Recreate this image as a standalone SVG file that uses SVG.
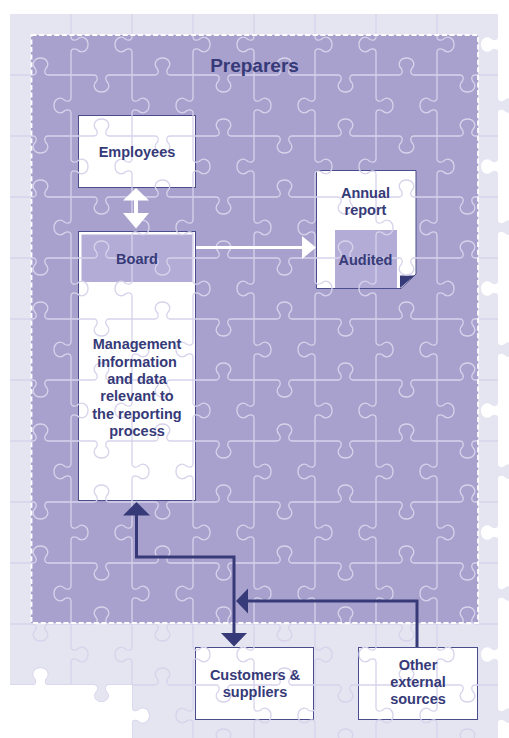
<svg xmlns="http://www.w3.org/2000/svg" width="509" height="738" viewBox="0 0 509 738">
<style>
.pz{fill:none;stroke:#d6d3eb;stroke-width:1.3}
.box{fill:#ffffff;stroke:#4a4d8c;stroke-width:1}
.band{fill:#b3acd7}
.t{font-family:"Liberation Sans",Arial,Helvetica,sans-serif;font-weight:bold;fill:#363a78;text-anchor:middle}
.s{font-size:14.5px}
.nav{fill:none;stroke:#363a78;stroke-width:3}
.navh{fill:#363a78}
</style>
<defs>
<path id="region" d="M10,14 H498
v23 c0,3 -3,4 -6,2.5 c-5,-5 -11,-1 -11,5 c0,6 6,10 11,5 c3,-1.5 6,-0.5 6,2.5 v23
v23 c0,3 3,4 6,2.5 c5,-5 11,-1 11,5 c0,6 -6,10 -11,5 c-3,-1.5 -6,-0.5 -6,2.5 v23
v23 c0,3 -3,4 -6,2.5 c-5,-5 -11,-1 -11,5 c0,6 6,10 11,5 c3,-1.5 6,-0.5 6,2.5 v23
v23 c0,3 3,4 6,2.5 c5,-5 11,-1 11,5 c0,6 -6,10 -11,5 c-3,-1.5 -6,-0.5 -6,2.5 v23
v23 c0,3 -3,4 -6,2.5 c-5,-5 -11,-1 -11,5 c0,6 6,10 11,5 c3,-1.5 6,-0.5 6,2.5 v23
v23 c0,3 3,4 6,2.5 c5,-5 11,-1 11,5 c0,6 -6,10 -11,5 c-3,-1.5 -6,-0.5 -6,2.5 v23
v23 c0,3 -3,4 -6,2.5 c-5,-5 -11,-1 -11,5 c0,6 6,10 11,5 c3,-1.5 6,-0.5 6,2.5 v23
v23 c0,3 3,4 6,2.5 c5,-5 11,-1 11,5 c0,6 -6,10 -11,5 c-3,-1.5 -6,-0.5 -6,2.5 v23
v23 c0,3 -3,4 -6,2.5 c-5,-5 -11,-1 -11,5 c0,6 6,10 11,5 c3,-1.5 6,-0.5 6,2.5 v23
v23 c0,3 3,4 6,2.5 c5,-5 11,-1 11,5 c0,6 -6,10 -11,5 c-3,-1.5 -6,-0.5 -6,2.5 v23
v23 c0,3 -3,4 -6,2.5 c-5,-5 -11,-1 -11,5 c0,6 6,10 11,5 c3,-1.5 6,-0.5 6,2.5 v23
v23 c0,3 3,4 6,2.5 c5,-5 11,-1 11,5 c0,6 -6,10 -11,5 c-3,-1.5 -6,-0.5 -6,2.5 v23
H132
v-23 c0,-3 3,-4 6,-2.5 c5,5 11,1 11,-5 c0,-6 -6,-10 -11,-5 c-3,1.5 -6,0.5 -6,-2.5 v-23
h-23 c-3,0 -4,3 -2.5,6 c5,5 1,11 -5,11 c-6,0 -10,-6 -5,-11 c1.5,-3 0.5,-6 -2.5,-6 h-23
h-23 c-3,0 -4,-3 -2.5,-6 c5,-5 1,-11 -5,-11 c-6,0 -10,6 -5,11 c1.5,3 0.5,6 -2.5,6 h-23
Z"/>
<clipPath id="clipR"><use href="#region"/></clipPath>
<path id="ha" d="M0,0
h23 c3,0 4,3 2.5,6 c-5,5 -1,11 5,11 c6,0 10,-6 5,-11 c-1.5,-3 -0.5,-6 2.5,-6 h23
h23 c3,0 4,-3 2.5,-6 c-5,-5 -1,-11 5,-11 c6,0 10,6 5,11 c-1.5,3 -0.5,6 2.5,6 h23
h23 c3,0 4,3 2.5,6 c-5,5 -1,11 5,11 c6,0 10,-6 5,-11 c-1.5,-3 -0.5,-6 2.5,-6 h23
h23 c3,0 4,-3 2.5,-6 c-5,-5 -1,-11 5,-11 c6,0 10,6 5,11 c-1.5,3 -0.5,6 2.5,6 h23
h23 c3,0 4,3 2.5,6 c-5,5 -1,11 5,11 c6,0 10,-6 5,-11 c-1.5,-3 -0.5,-6 2.5,-6 h23
h23 c3,0 4,-3 2.5,-6 c-5,-5 -1,-11 5,-11 c6,0 10,6 5,11 c-1.5,3 -0.5,6 2.5,6 h23
h23 c3,0 4,3 2.5,6 c-5,5 -1,11 5,11 c6,0 10,-6 5,-11 c-1.5,-3 -0.5,-6 2.5,-6 h23
h23 c3,0 4,-3 2.5,-6 c-5,-5 -1,-11 5,-11 c6,0 10,6 5,11 c-1.5,3 -0.5,6 2.5,6 h23"/>
<path id="hb" d="M0,0
h23 c3,0 4,-3 2.5,-6 c-5,-5 -1,-11 5,-11 c6,0 10,6 5,11 c-1.5,3 -0.5,6 2.5,6 h23
h23 c3,0 4,3 2.5,6 c-5,5 -1,11 5,11 c6,0 10,-6 5,-11 c-1.5,-3 -0.5,-6 2.5,-6 h23
h23 c3,0 4,-3 2.5,-6 c-5,-5 -1,-11 5,-11 c6,0 10,6 5,11 c-1.5,3 -0.5,6 2.5,6 h23
h23 c3,0 4,3 2.5,6 c-5,5 -1,11 5,11 c6,0 10,-6 5,-11 c-1.5,-3 -0.5,-6 2.5,-6 h23
h23 c3,0 4,-3 2.5,-6 c-5,-5 -1,-11 5,-11 c6,0 10,6 5,11 c-1.5,3 -0.5,6 2.5,6 h23
h23 c3,0 4,3 2.5,6 c-5,5 -1,11 5,11 c6,0 10,-6 5,-11 c-1.5,-3 -0.5,-6 2.5,-6 h23
h23 c3,0 4,-3 2.5,-6 c-5,-5 -1,-11 5,-11 c6,0 10,6 5,11 c-1.5,3 -0.5,6 2.5,6 h23
h23 c3,0 4,3 2.5,6 c-5,5 -1,11 5,11 c6,0 10,-6 5,-11 c-1.5,-3 -0.5,-6 2.5,-6 h23"/>
<path id="va" d="M0,0
v23 c0,3 -3,4 -6,2.5 c-5,-5 -11,-1 -11,5 c0,6 6,10 11,5 c3,-1.5 6,-0.5 6,2.5 v23
v23 c0,3 3,4 6,2.5 c5,-5 11,-1 11,5 c0,6 -6,10 -11,5 c-3,-1.5 -6,-0.5 -6,2.5 v23
v23 c0,3 -3,4 -6,2.5 c-5,-5 -11,-1 -11,5 c0,6 6,10 11,5 c3,-1.5 6,-0.5 6,2.5 v23
v23 c0,3 3,4 6,2.5 c5,-5 11,-1 11,5 c0,6 -6,10 -11,5 c-3,-1.5 -6,-0.5 -6,2.5 v23
v23 c0,3 -3,4 -6,2.5 c-5,-5 -11,-1 -11,5 c0,6 6,10 11,5 c3,-1.5 6,-0.5 6,2.5 v23
v23 c0,3 3,4 6,2.5 c5,-5 11,-1 11,5 c0,6 -6,10 -11,5 c-3,-1.5 -6,-0.5 -6,2.5 v23
v23 c0,3 -3,4 -6,2.5 c-5,-5 -11,-1 -11,5 c0,6 6,10 11,5 c3,-1.5 6,-0.5 6,2.5 v23
v23 c0,3 3,4 6,2.5 c5,-5 11,-1 11,5 c0,6 -6,10 -11,5 c-3,-1.5 -6,-0.5 -6,2.5 v23
v23 c0,3 -3,4 -6,2.5 c-5,-5 -11,-1 -11,5 c0,6 6,10 11,5 c3,-1.5 6,-0.5 6,2.5 v23
v23 c0,3 3,4 6,2.5 c5,-5 11,-1 11,5 c0,6 -6,10 -11,5 c-3,-1.5 -6,-0.5 -6,2.5 v23
v23 c0,3 -3,4 -6,2.5 c-5,-5 -11,-1 -11,5 c0,6 6,10 11,5 c3,-1.5 6,-0.5 6,2.5 v23
v23 c0,3 3,4 6,2.5 c5,-5 11,-1 11,5 c0,6 -6,10 -11,5 c-3,-1.5 -6,-0.5 -6,2.5 v23"/>
<path id="vb" d="M0,0
v23 c0,3 3,4 6,2.5 c5,-5 11,-1 11,5 c0,6 -6,10 -11,5 c-3,-1.5 -6,-0.5 -6,2.5 v23
v23 c0,3 -3,4 -6,2.5 c-5,-5 -11,-1 -11,5 c0,6 6,10 11,5 c3,-1.5 6,-0.5 6,2.5 v23
v23 c0,3 3,4 6,2.5 c5,-5 11,-1 11,5 c0,6 -6,10 -11,5 c-3,-1.5 -6,-0.5 -6,2.5 v23
v23 c0,3 -3,4 -6,2.5 c-5,-5 -11,-1 -11,5 c0,6 6,10 11,5 c3,-1.5 6,-0.5 6,2.5 v23
v23 c0,3 3,4 6,2.5 c5,-5 11,-1 11,5 c0,6 -6,10 -11,5 c-3,-1.5 -6,-0.5 -6,2.5 v23
v23 c0,3 -3,4 -6,2.5 c-5,-5 -11,-1 -11,5 c0,6 6,10 11,5 c3,-1.5 6,-0.5 6,2.5 v23
v23 c0,3 3,4 6,2.5 c5,-5 11,-1 11,5 c0,6 -6,10 -11,5 c-3,-1.5 -6,-0.5 -6,2.5 v23
v23 c0,3 -3,4 -6,2.5 c-5,-5 -11,-1 -11,5 c0,6 6,10 11,5 c3,-1.5 6,-0.5 6,2.5 v23
v23 c0,3 3,4 6,2.5 c5,-5 11,-1 11,5 c0,6 -6,10 -11,5 c-3,-1.5 -6,-0.5 -6,2.5 v23
v23 c0,3 -3,4 -6,2.5 c-5,-5 -11,-1 -11,5 c0,6 6,10 11,5 c3,-1.5 6,-0.5 6,2.5 v23
v23 c0,3 3,4 6,2.5 c5,-5 11,-1 11,5 c0,6 -6,10 -11,5 c-3,-1.5 -6,-0.5 -6,2.5 v23
v23 c0,3 -3,4 -6,2.5 c-5,-5 -11,-1 -11,5 c0,6 6,10 11,5 c3,-1.5 6,-0.5 6,2.5 v23"/>
</defs>

<g id="background">
<use href="#region" fill="#e5e4f1"/>
<rect x="31" y="35" width="447" height="588" fill="#a9a1cd"/>
</g>

<g id="employees">
<rect class="box" x="78.5" y="115.5" width="117" height="72"/>
</g>
<g id="management">
<rect class="box" x="78.5" y="231.5" width="117" height="269"/>
<rect class="band" x="81.5" y="234.5" width="111" height="47.5"/>
</g>
<g id="annual-report">
<path class="box" d="M316.5,170.5 H416 V274 L401,288.5 H316.5 Z"/>
<rect class="band" x="335" y="230" width="62" height="58"/>
<path d="M400,275.5 H414.5 L400,288 Z" fill="#363a78"/>
</g>
<g id="customers">
<rect class="box" x="195.5" y="647.5" width="118" height="72"/>
</g>
<g id="other-sources">
<rect class="box" x="358.5" y="647.5" width="119" height="72"/>
</g>

<g id="puzzle" clip-path="url(#clipR)" class="pz">
<use href="#hb" x="10" y="75"/>
<use href="#ha" x="10" y="136"/>
<use href="#hb" x="10" y="197"/>
<use href="#ha" x="10" y="258"/>
<use href="#hb" x="10" y="319"/>
<use href="#ha" x="10" y="380"/>
<use href="#hb" x="10" y="441"/>
<use href="#ha" x="10" y="502"/>
<use href="#hb" x="10" y="563"/>
<use href="#ha" x="10" y="624"/>
<use href="#hb" x="10" y="685"/>
<use href="#ha" x="10" y="746"/>
<use href="#vb" x="71" y="14"/>
<use href="#va" x="132" y="14"/>
<use href="#vb" x="193" y="14"/>
<use href="#va" x="254" y="14"/>
<use href="#vb" x="315" y="14"/>
<use href="#va" x="376" y="14"/>
<use href="#vb" x="437" y="14"/>
</g>

<rect id="preparers-border" x="31.5" y="35" width="446.5" height="588" fill="none" stroke="#ffffff" stroke-width="1.8" stroke-dasharray="5 2.6"/>

<g id="connectors">
<line x1="136" y1="199" x2="136" y2="214" stroke="#ffffff" stroke-width="4"/>
<polygon points="123,200.5 136,188 149,200.5" fill="#ffffff"/>
<polygon points="123,213 136,228.5 149,213" fill="#ffffff"/>
<line x1="196" y1="247.5" x2="304" y2="247.5" stroke="#ffffff" stroke-width="3"/>
<polygon points="302,236 316,247.5 302,259" fill="#ffffff"/>
<path class="nav" d="M136.5,514 V557 H234 V634"/>
<polygon class="navh" points="123,515.5 136.5,502 150,515.5"/>
<polygon class="navh" points="221,633 234,646.5 247,633"/>
<path class="nav" d="M417,647 V601 H247"/>
<polygon class="navh" points="248,588.5 236,601 248,613.5"/>
</g>

<g id="labels">
<text class="t" x="254.5" y="72" font-size="19">Preparers</text>
<text class="t s" x="137" y="157">Employees</text>
<text class="t s" x="137" y="264">Board</text>
<text class="t s" x="137" y="349">Management</text>
<text class="t s" x="137" y="366.5">information</text>
<text class="t s" x="137" y="384">and data</text>
<text class="t s" x="137" y="401">relevant to</text>
<text class="t s" x="137" y="418.5">the reporting</text>
<text class="t s" x="137" y="436">process</text>
<text class="t s" x="365.5" y="198">Annual</text>
<text class="t s" x="365.5" y="215">report</text>
<text class="t s" x="365.5" y="264.5">Audited</text>
<text class="t s" x="255" y="680">Customers &amp;</text>
<text class="t s" x="255" y="696.5">suppliers</text>
<text class="t s" x="418" y="670">Other</text>
<text class="t s" x="418" y="687">external</text>
<text class="t s" x="418" y="704">sources</text>
</g>
</svg>
